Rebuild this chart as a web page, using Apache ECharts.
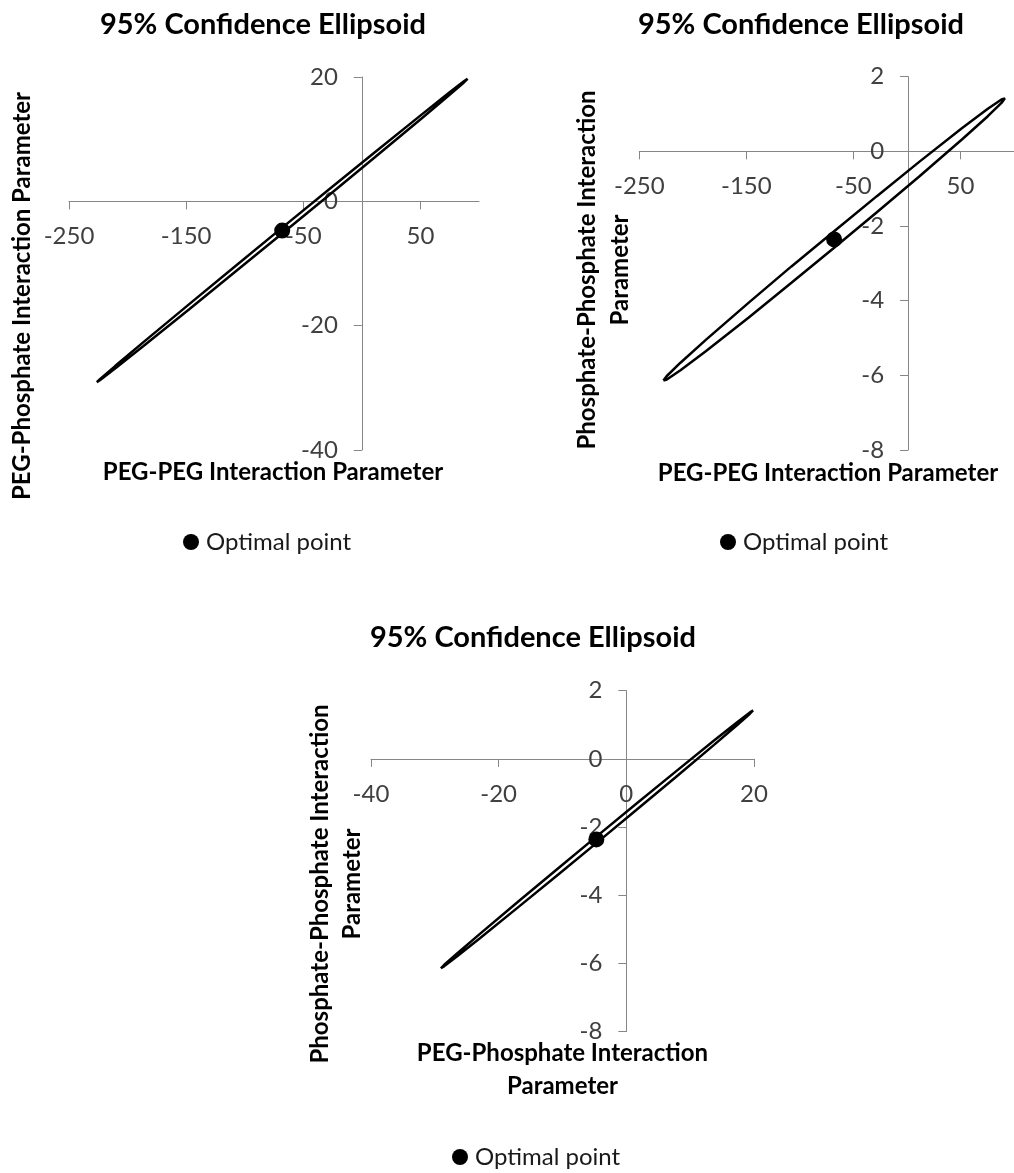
<!DOCTYPE html>
<html>
<head>
<meta charset="utf-8">
<title>95% Confidence Ellipsoid</title>
<script src="https://cdn.jsdelivr.net/npm/echarts@6/dist/echarts.min.js"></script>
<style>
  html, body { margin: 0; padding: 0; background: #ffffff; }
  #chart { width: 1014px; height: 1173px; }
</style>
</head>
<body>
<div id="chart"></div>
<script>
// Optimal parameter estimates
const optimalPegPeg = -68;
const optimalPegPhos = -4.7;
const optimalPhosPhos = -2.36;

// Confidence region outlines, traced point by point around each ellipse
// Panel A: PEG-PEG (x) vs PEG-Phosphate (y)
const ellipsePegPegVsPegPhos = [
  [-226.25, -29.1], [-223.1, -28.52], [-210.4, -26.46], [-186.7, -22.69],
  [-147.1, -16.49], [-107.6, -10.35], [-68, -4.23], [-28.4, 1.86],
  [11.1, 7.91], [50.7, 13.91], [74.4, 17.47], [87.1, 19.30], [90.25, 19.7],
  [87.1, 19.12], [74.4, 17.06], [50.7, 13.29], [11.1, 7.09], [-28.4, 0.95],
  [-68, -5.17], [-107.6, -11.26], [-147.1, -17.31], [-186.7, -23.31],
  [-210.4, -26.87], [-223.1, -28.70], [-226.25, -29.1]
];
// Panel B: PEG-PEG (x) vs Phosphate-Phosphate (y)
const ellipsePegPegVsPhosPhos = [
  [-227.5, -6.14], [-224.3, -6.018], [-211.55, -5.662], [-187.6, -5.043],
  [-147.75, -4.051], [-107.9, -3.082], [-68, -2.14], [-28.1, -1.2],
  [11.75, -0.275], [51.6, 0.625], [75.55, 1.142], [88.3, 1.39], [91.5, 1.42],
  [88.3, 1.298], [75.55, 0.942], [51.6, 0.325], [11.75, -0.665], [-28.1, -1.63],
  [-68, -2.58], [-107.9, -3.52], [-147.75, -4.449], [-187.6, -5.347],
  [-211.55, -5.862], [-224.3, -6.11], [-227.5, -6.14]
];
// Panel C: PEG-Phosphate (x) vs Phosphate-Phosphate (y)
const ellipsePegPhosVsPhosPhos = [
  [-29.05, -6.14], [-28.56, -6.045], [-26.6, -5.721], [-22.94, -5.132],
  [-16.83, -4.168], [-10.71, -3.213], [-4.6, -2.265], [1.51, -1.323],
  [7.63, -0.388], [13.74, 0.538], [17.41, 1.083], [19.36, 1.363], [19.85, 1.42],
  [19.36, 1.325], [17.41, 1.001], [13.74, 0.412], [7.63, -0.552], [1.51, -1.507],
  [-4.6, -2.455], [-10.71, -3.397], [-16.83, -4.332], [-22.94, -5.258],
  [-26.6, -5.803], [-28.56, -6.083], [-29.05, -6.14]
];

// Tick labels for each axis
const ticksPegPeg = [-250, -150, -50, 50];
const ticksPegPhosY = [-40, -20, 0, 20];
const ticksPhosPhos = [-8, -6, -4, -2, 0, 2];
const ticksPegPhosX = [-40, -20, 0, 20];

const titleText = '95% Confidence Ellipsoid';
const legendText = 'Optimal point';

const FONT = 'Lato, "Open Sans", sans-serif';
const AXIS_COLOR = '#868686';
const LABEL_COLOR = '#404040';

// Panel plot areas (pixels) and axis ranges
const panels = [
  { left: 69, top: 77, width: 410, height: 373, x: [-250, 100], y: [-40, 20], xt: ticksPegPeg, yt: ticksPegPhosY },
  { left: 639.3, top: 76.7, width: 376.3, height: 373.3, x: [-250, 100], y: [-8, 2], xt: ticksPegPeg, yt: ticksPhosPhos },
  { left: 371, top: 690.7, width: 383, height: 341, x: [-40, 20], y: [-8, 2], xt: ticksPegPhosX, yt: ticksPhosPhos }
];

// The axes cross at zero: shift each axis from the grid edge onto the zero line
function xAxisFor(i) {
  const p = panels[i];
  const zeroFromBottom = p.height * (0 - p.y[0]) / (p.y[1] - p.y[0]);
  return axisCommon(i, p.x, p.xt, -zeroFromBottom, 23);
}
function yAxisFor(i) {
  const p = panels[i];
  const zeroFromLeft = p.width * (0 - p.x[0]) / (p.x[1] - p.x[0]);
  return axisCommon(i, p.y, p.yt, -zeroFromLeft, 24);
}
function axisCommon(gridIndex, range, ticks, offset, margin) {
  return {
    type: 'value',
    gridIndex: gridIndex,
    min: range[0],
    max: range[1],
    offset: offset,
    axisLine: { show: true, onZero: false, lineStyle: { color: AXIS_COLOR, width: 1 } },
    axisTick: { show: true, length: 8, customValues: ticks, lineStyle: { color: AXIS_COLOR } },
    axisLabel: {
      customValues: ticks,
      margin: margin,
      color: LABEL_COLOR,
      fontFamily: FONT,
      fontSize: 24
    },
    splitLine: { show: false }
  };
}

function ellipseSeries(idx, data) {
  return {
    type: 'line',
    xAxisIndex: idx,
    yAxisIndex: idx,
    data: data,
    symbol: 'none',
    smooth: false,
    lineStyle: { color: '#000000', width: 2.5 },
    silent: true,
    z: 3
  };
}

function pointSeries(idx, x, y) {
  return {
    type: 'scatter',
    name: legendText,
    xAxisIndex: idx,
    yAxisIndex: idx,
    data: [[x, y]],
    symbol: 'circle',
    symbolSize: 16,
    itemStyle: { color: '#000000', opacity: 1 },
    z: 4
  };
}

function legendAt(left, top) {
  return {
    data: [legendText],
    left: left,
    top: top,
    padding: 0,
    icon: 'circle',
    itemWidth: 16,
    itemHeight: 16,
    itemGap: 0,
    selectedMode: false,
    itemStyle: { opacity: 1 },
    textStyle: { fontFamily: FONT, fontSize: 24, color: '#1a1a1a', padding: [0, 0, 0, 2] }
  };
}

function titleAt(cx, top) {
  return {
    text: titleText,
    left: cx,
    top: top,
    textAlign: 'center',
    padding: 0,
    textStyle: { fontFamily: FONT, fontSize: 29, fontWeight: 'bold', color: '#000000' }
  };
}

function axisTitle(x, y, text, rotate, lineHeight) {
  return {
    type: 'text',
    x: x,
    y: y,
    rotation: rotate ? Math.PI / 2 : 0,
    style: {
      text: text,
      fontFamily: FONT,
      fontSize: 24,
      fontWeight: 'bold',
      fill: '#000000',
      align: 'center',
      verticalAlign: 'middle',
      lineHeight: lineHeight || 28
    }
  };
}

const chart = echarts.init(document.getElementById('chart'), null, { renderer: 'canvas' });

chart.setOption({
  backgroundColor: '#ffffff',
  animation: false,
  title: [
    titleAt(263, 10),
    titleAt(801, 10),
    titleAt(533, 623)
  ],
  legend: [
    legendAt(183, 530),
    legendAt(720, 530),
    legendAt(452, 1145)
  ],
  grid: panels.map(p => ({ left: p.left, top: p.top, width: p.width, height: p.height, containLabel: false })),
  xAxis: [xAxisFor(0), xAxisFor(1), xAxisFor(2)],
  yAxis: [yAxisFor(0), yAxisFor(1), yAxisFor(2)],
  graphic: [
    axisTitle(273, 472, 'PEG-PEG Interaction Parameter', false),
    axisTitle(22, 296, 'PEG-Phosphate Interaction Parameter', true),
    axisTitle(828, 473, 'PEG-PEG Interaction Parameter', false),
    axisTitle(604, 270, 'Phosphate-Phosphate Interaction\nParameter', true, 32.5),
    axisTitle(562.5, 1070, 'PEG-Phosphate Interaction\nParameter', false, 33.5),
    axisTitle(336, 884, 'Phosphate-Phosphate Interaction\nParameter', true, 32)
  ],
  series: [
    ellipseSeries(0, ellipsePegPegVsPegPhos),
    pointSeries(0, optimalPegPeg, optimalPegPhos),
    ellipseSeries(1, ellipsePegPegVsPhosPhos),
    pointSeries(1, optimalPegPeg, optimalPhosPhos),
    ellipseSeries(2, ellipsePegPhosVsPhosPhos),
    pointSeries(2, optimalPegPhos, optimalPhosPhos)
  ]
});
</script>
</body>
</html>
